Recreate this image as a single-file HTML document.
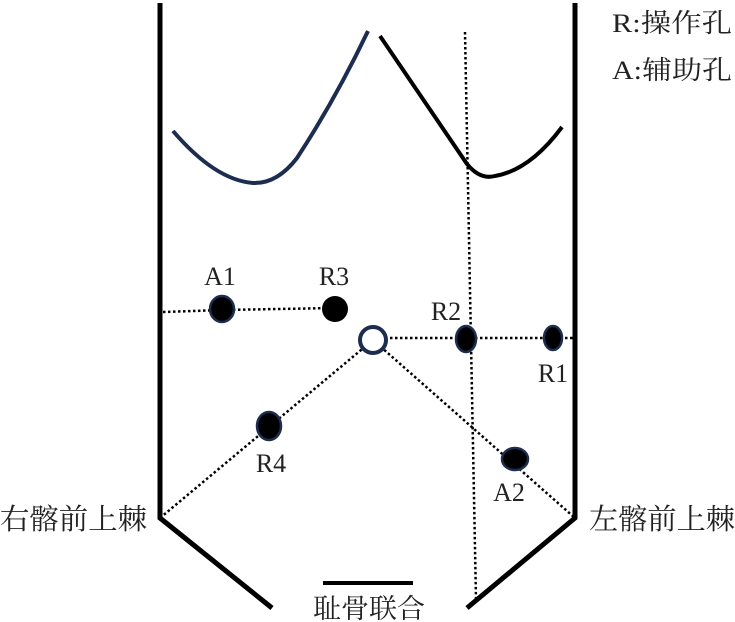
<!DOCTYPE html>
<html><head><meta charset="utf-8"><style>
html,body{margin:0;padding:0;background:#fff;}
svg{display:block;}
text{font-family:"Liberation Serif","Noto Serif CJK SC",serif;fill:#222;}
.cj{font-family:"Liberation Serif","Noto Serif CJK SC",serif;}
</style></head><body>
<svg width="735" height="622" viewBox="0 0 735 622" xmlns="http://www.w3.org/2000/svg">
<polyline points="160,3 160,518 272,608" fill="none" stroke="#000" stroke-width="5"/>
<polyline points="575,3 575,518 467,608" fill="none" stroke="#000" stroke-width="5"/>
<line x1="323" y1="583" x2="413" y2="583" stroke="#000" stroke-width="4"/>
<path d="M173,131 Q215,180 253,183 Q277,184 297,158 Q335,100 368,31" fill="none" stroke="#1d2d4f" stroke-width="4"/>
<path d="M380,36 L467,164 Q480,180 495,176 Q530,170 562,127" fill="none" stroke="#000" stroke-width="4"/>
<g stroke="#000" stroke-width="2.5" stroke-dasharray="2.5,2.5" fill="none">
<line x1="465" y1="32" x2="476" y2="600"/>
<polyline points="163,312 222,310 335,308"/>
<line x1="385" y1="338" x2="578" y2="338"/>
<line x1="373" y1="340" x2="160" y2="518"/>
<line x1="373" y1="340" x2="575" y2="518"/>
</g>
<g fill="#000" stroke="#1d2d4f" stroke-width="2.5">
<ellipse cx="222" cy="309" rx="12" ry="13"/>
<ellipse cx="335" cy="309" rx="13" ry="13" stroke="none"/>
<ellipse cx="466" cy="339" rx="10" ry="13"/>
<ellipse cx="553" cy="338" rx="9" ry="12"/>
<ellipse cx="269" cy="426" rx="12" ry="14"/>
<ellipse cx="515" cy="459" rx="13" ry="11"/>
</g>
<circle cx="373" cy="340" r="13" fill="#fff" stroke="#1d2d4f" stroke-width="4"/>
<g font-size="26">
<text x="220" y="285" text-anchor="middle">A1</text>
<text x="334" y="285" text-anchor="middle">R3</text>
<text x="446" y="320" text-anchor="middle">R2</text>
<text x="553" y="382" text-anchor="middle">R1</text>
<text x="271" y="472" text-anchor="middle">R4</text>
<text x="509" y="501" text-anchor="middle">A2</text>
</g>
<text x="612" y="32" font-size="26" class="cj" textLength="120" lengthAdjust="spacingAndGlyphs">R:操作孔</text>
<text x="612" y="79" font-size="26" class="cj" textLength="120" lengthAdjust="spacingAndGlyphs">A:辅助孔</text>
<text x="0" y="529" font-size="29" class="cj" textLength="147" lengthAdjust="spacingAndGlyphs">右髂前上棘</text>
<text x="589" y="529" font-size="29" class="cj" textLength="146" lengthAdjust="spacingAndGlyphs">左髂前上棘</text>
<text x="313" y="618" font-size="27" class="cj" textLength="112" lengthAdjust="spacingAndGlyphs">耻骨联合</text>
</svg>
</body></html>
